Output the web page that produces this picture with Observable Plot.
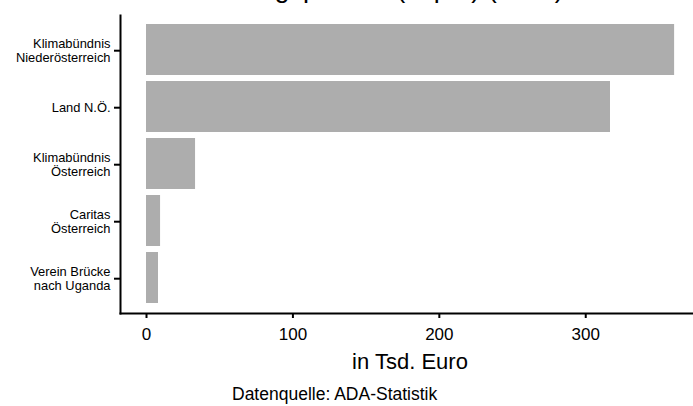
<!DOCTYPE html>
<html>
<head>
<meta charset="utf-8">
<script src="https://cdn.jsdelivr.net/npm/d3@7"></script>
<script src="https://cdn.jsdelivr.net/npm/@observablehq/plot@0.6"></script>
<style>
  html, body { margin: 0; padding: 0; background: #fff; }
  #wrap { position: relative; width: 693px; height: 406px; overflow: hidden; font-family: "Liberation Sans", Arial, sans-serif; color: #000; }
  .txt { position: absolute; white-space: nowrap; }
  #plot svg { display: block; }
</style>
</head>
<body>
<div id="wrap">
  <div id="plot"></div>
  <div class="txt" id="title" style="left:126px; top:-25.5px; font-size:27px; line-height:27px;">Durchführungspartner (Top 5) (2011)</div>
  <div class="txt" id="xtitle" style="left:120px; width:580px; text-align:center; top:350.7px; font-size:22px; line-height:22px;">in Tsd. Euro</div>
  <div class="txt" id="caption" style="left:232px; top:386.2px; font-size:17.5px; line-height:17.5px;">Datenquelle: ADA-Statistik</div>
</div>
<script>
const categories = [
  "Klimabündnis\nNiederösterreich",
  "Land N.Ö.",
  "Klimabündnis\nÖsterreich",
  "Caritas\nÖsterreich",
  "Verein Brücke\nnach Uganda"
];
const values = [360.7, 316.9, 33.5, 9.6, 8.2];
const xTicks = [0, 100, 200, 300];

const data = categories.map((c, i) => ({name: c, value: values[i]}));

const chart = Plot.plot({
  width: 693,
  height: 345,
  marginLeft: 120,
  marginRight: 0,
  marginTop: 15,
  marginBottom: 32,
  style: {fontFamily: "'Liberation Sans', Arial, sans-serif", background: "white", color: "black"},
  x: {domain: [-17.76, 373.6]},
  y: {domain: categories, paddingInner: 0.1, paddingOuter: 0.15, align: 0.5},
  marks: [
    Plot.barX(data, {x: "value", y: "name", fill: "#adadad"}),
    Plot.axisX(xTicks, {tickSize: 5, tickPadding: 9, fontSize: 17, label: null, strokeWidth: 2, stroke: "black", fill: "black"}),
    Plot.axisY({tickSize: 6, tickPadding: 4, fontSize: 12.9, lineHeight: 1.07, label: null, strokeWidth: 2, stroke: "black", fill: "black", dy: 0.7}),
    Plot.frame({anchor: "left", stroke: "black", strokeWidth: 2}),
    Plot.frame({anchor: "bottom", stroke: "black", strokeWidth: 2})
  ]
});
document.getElementById("plot").appendChild(chart);
</script>
</body>
</html>
